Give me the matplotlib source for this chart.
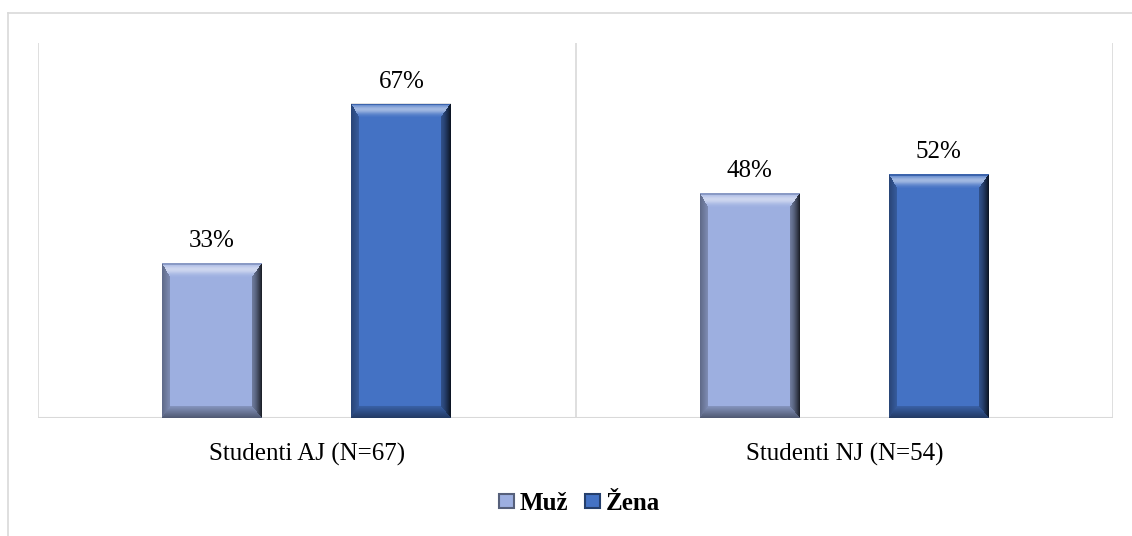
import numpy as np
import matplotlib
matplotlib.use("Agg")
import matplotlib.pyplot as plt
from matplotlib.patches import Patch
from matplotlib.lines import Line2D
from matplotlib.colors import to_rgb

# Data
categories = ["Studenti AJ (N=67)", "Studenti NJ (N=54)"]
series_names = ["Muž", "Žena"]
muz = [33, 48]
zena = [67, 52]
series_values = [muz, zena]
colors = ["#9DAFE0", "#4472C4"]

plt.rcParams["font.family"] = ["Liberation Serif", "DejaVu Serif"]

W, H, DPI = 1132, 536, 100
fig = plt.figure(figsize=(W / DPI, H / DPI), dpi=DPI)
fig.patch.set_facecolor("white")

# outer chart frame (left/top edges visible)
grid_c = "#D9D9D9"
fig.add_artist(Line2D([8 / W, 8 / W], [0, 1 - 13 / H], transform=fig.transFigure,
                      color=grid_c, lw=1.2))
fig.add_artist(Line2D([8 / W, 1], [1 - 13 / H, 1 - 13 / H], transform=fig.transFigure,
                      color=grid_c, lw=1.2))

ax = fig.add_axes([38 / W, 1 - 418 / H, (1113 - 38) / W, (418 - 43) / H])
ax.set_xlim(-0.5, len(categories) - 0.5)
ax.set_ylim(0, 80)
for s in ax.spines.values():
    s.set_visible(False)
ax.set_yticks([])
ax.set_xticks(range(len(categories)))
ax.set_xticklabels(categories, fontsize=18)
ax.tick_params(axis="x", length=0, pad=18)

# category separators and baseline
for xb in np.arange(-0.5, len(categories), 1.0):
    ax.axvline(xb, color=grid_c, lw=1.2, zorder=0)
ax.axhline(0, color=grid_c, lw=1.5, zorder=1)

bar_w = 0.186
offsets = [-0.176, 0.176]
x = np.arange(len(categories))

fig.canvas.draw()


def bevel_overlay(rect, bl=8, br=10, bt=14, bb=12):
    """Paint a beveled-edge shading image over a bar."""
    x0, y0 = rect.get_x(), rect.get_y()
    x1, y1 = x0 + rect.get_width(), y0 + rect.get_height()
    (px0, py0), (px1, py1) = ax.transData.transform([(x0, y0), (x1, y1)])
    w = max(int(round(px1 - px0)), 2)
    h = max(int(round(py1 - py0)), 2)
    jj, ii = np.meshgrid(np.arange(w) + 0.5, np.arange(h) + 0.5)
    tn = np.stack([jj / bl, (w - jj) / br, ii / bt, (h - ii) / bb])
    side = np.argmin(tn, axis=0)
    t = np.min(tn, axis=0)
    inside = t < 1
    t = np.clip(t, 0, 1)
    rgba = np.zeros((h, w, 4))
    # left: mild shadow
    m = inside & (side == 0)
    rgba[m, 3] = 0.2 + 0.2 * (1 - t[m])
    # right: deep shadow
    m = inside & (side == 1)
    rgba[m, 3] = 0.3 + 0.55 * (1 - t[m]) ** 1.4
    # top: highlight band
    m = inside & (side == 2)
    rgba[m, :3] = 1.0
    rgba[m, 3] = 0.5 * np.exp(-((t[m] - 0.45) / 0.32) ** 2)
    edge = m & (t < 0.12)
    rgba[edge, :3] = 0.0
    rgba[edge, 3] = 0.12
    # bottom: shadow
    m = inside & (side == 3)
    rgba[m, 3] = 0.15 + 0.35 * (1 - t[m])
    ax.imshow(rgba, extent=(x0, x1, y0, y1), origin="upper", aspect="auto",
              interpolation="bilinear", zorder=3)


for k, (vals, col) in enumerate(zip(series_values, colors)):
    bars = ax.bar(x + offsets[k], vals, width=bar_w, color=col, zorder=2,
                  label=series_names[k], linewidth=0)
    for rect, v in zip(bars, vals):
        bevel_overlay(rect)
        ax.annotate(f"{v}%", (rect.get_x() + rect.get_width() / 2, v),
                    xytext=(0, 8), textcoords="offset points",
                    ha="center", va="bottom", fontsize=18, color="#000000")

ax.set_xlim(-0.5, len(categories) - 0.5)
ax.set_ylim(0, 80)


def darker(c, f=0.55):
    r, g, b = to_rgb(c)
    return (r * f, g * f, b * f)


handles = [Patch(facecolor=c, edgecolor=darker(c), linewidth=1.5) for c in colors]
leg = fig.legend(handles, series_names, loc="center", bbox_to_anchor=(579.5 / W, 1 - 503 / H),
                 ncol=2, frameon=False, handlelength=0.6, handleheight=0.5,
                 handletextpad=0.2, columnspacing=0.7,
                 prop={"family": ["Liberation Serif"], "weight": "bold", "size": 18})

fig.savefig("out.png", dpi=DPI, facecolor="white")
